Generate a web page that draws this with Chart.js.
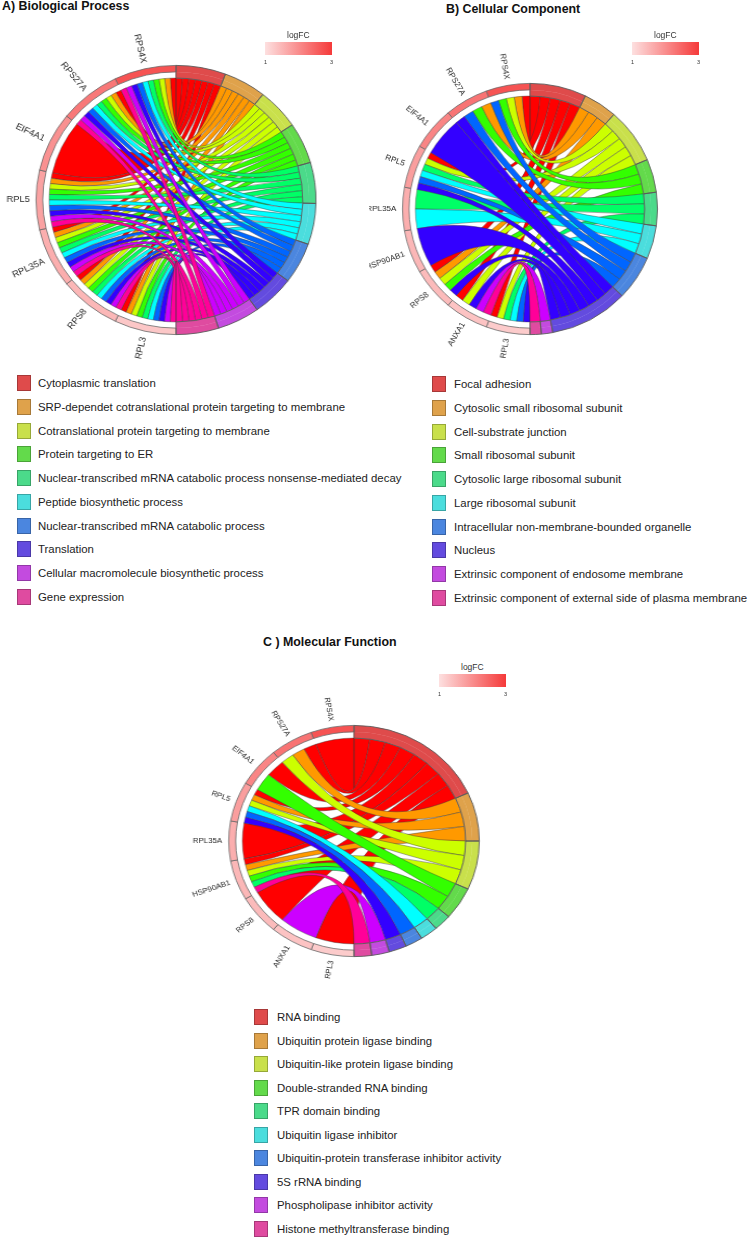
<!DOCTYPE html>
<html>
<head>
<meta charset="utf-8">
<script src="https://cdn.jsdelivr.net/npm/chart.js@4.4.1/dist/chart.umd.min.js"></script>
<style>
  body { margin: 0; background: #fff; font-family: "Liberation Sans", Arial, sans-serif; }
  #page { position: relative; width: 748px; height: 1239px; overflow: hidden; }
  .title { position: absolute; font-weight: bold; font-size: 12.4px; line-height: 14px; color: #111; white-space: nowrap; }
  .clip { position: absolute; overflow: hidden; }
  canvas { position: absolute; }
  .sq { position: absolute; width: 14px; height: 16px; box-sizing: border-box; border: 1px solid rgba(0,0,0,0.25); }
  .lt { position: absolute; font-size: 11.4px; line-height: 14px; color: #222; white-space: nowrap; }
  .fc { position: absolute; font-size: 8.5px; line-height: 10px; color: #333; }
  .fcbar { position: absolute; width: 67px; height: 13px; background: linear-gradient(to right, rgb(253,224,224), rgb(245,58,58)); }
  .tick { position: absolute; font-size: 5.5px; line-height: 6px; color: #333; }
</style>
</head>
<body>
<div id="page">
  <div class="title" style="left:2px;top:-1px">A) Biological Process</div>
  <div class="title" style="left:446px;top:2px">B) Cellular Component</div>
  <div class="title" style="left:263px;top:635px">C ) Molecular Function</div>

  <div class="clip" style="left:0;top:0;width:370px;height:370px"><canvas id="chartA" width="360" height="360" style="left:-4.5px;top:20px;transform:scaleX(1.04)"></canvas></div>
  <div class="clip" style="left:369px;top:0;width:379px;height:370px"><canvas id="chartB" width="342" height="342" style="left:-10px;top:38px;transform:scaleX(1.015)"></canvas></div>
  <div class="clip" style="left:150px;top:650px;width:450px;height:330px"><canvas id="chartC" width="322" height="322" style="left:43px;top:30px;transform:scaleX(1.084)"></canvas></div>
</div>
<script>
// ribbon colours (rainbow) and term arc / legend colours
const ribbonColors = ['#FF0000', '#FF9900', '#CCFF00', '#33FF00', '#00FF66', '#00FFFF', '#0066FF', '#3300FF', '#CC00FF', '#FF0099'];
const termColors = ['#DF4B4B', '#DFA24B', '#C9E04B', '#63DA4B', '#4BDA8A', '#4BDDDD', '#4B86DF', '#634BDF', '#C34BDF', '#DF4BA0'];

// A) Biological Process
const bpTerms = ['Cytoplasmic translation', 'SRP-dependet cotranslational protein targeting to membrane',
  'Cotranslational protein targeting to membrane', 'Protein targeting to ER',
  'Nuclear-transcribed mRNA catabolic process nonsense-mediated decay', 'Peptide biosynthetic process',
  'Nuclear-transcribed mRNA catabolic process', 'Translation',
  'Cellular macromolecule biosynthetic process', 'Gene expression'];
const bpGenes = ['RPS4X', 'RPS27A', 'EIF4A1', 'RPL5', 'RPL35A', 'RPS8', 'RPL3'];
const bpLogFC = [2.7, 2.25, 1.95, 1.75, 1.6, 1.5, 1.3];
const bpGeneTerms = [
  [1, 2, 3, 4, 5, 6, 7, 8, 9, 10],
  [1, 2, 3, 4, 5, 6, 7, 8, 9, 10],
  [1],
  [1, 2, 3, 4, 5, 6, 7, 8, 9, 10],
  [1, 2, 3, 4, 5, 6, 7, 8, 9, 10],
  [1, 2, 3, 4, 5, 6, 7, 8, 9, 10],
  [1, 2, 3, 4, 5, 6, 7, 8, 9, 10]
];

// B) Cellular Component
const ccTerms = ['Focal adhesion', 'Cytosolic small ribosomal subunit', 'Cell-substrate junction',
  'Small ribosomal subunit', 'Cytosolic large ribosomal subunit', 'Large ribosomal subunit',
  'Intracellular non-membrane-bounded organelle', 'Nucleus',
  'Extrinsic component of endosome membrane', 'Extrinsic component of external side of plasma membrane'];
const ccGenes = ['RPS4X', 'RPS27A', 'EIF4A1', 'RPL5', 'RPL35A', 'HSP90AB1', 'RPS8', 'ANXA1', 'RPL3'];
const ccLogFC = [2.7, 2.3, 2.1, 1.8, 1.6, 1.5, 1.45, 1.35, 1.25];
const ccGeneTerms = [
  [1, 2, 3, 4, 7],
  [2, 4, 7, 8],
  [8],
  [1, 3, 5, 6, 7, 8],
  [5, 6],
  [8],
  [1, 2, 3, 4, 8],
  [1, 3, 8, 9, 10],
  [1, 3, 5, 6, 7, 8]
];

// C) Molecular Function
const mfTerms = ['RNA binding', 'Ubiquitin protein ligase binding', 'Ubiquitin-like protein ligase binding',
  'Double-stranded RNA binding', 'TPR domain binding', 'Ubiquitin ligase inhibitor',
  'Ubiquitin-protein transferase inhibitor activity', '5S rRNA binding',
  'Phospholipase inhibitor activity', 'Histone methyltransferase binding'];
const mfGenes = ['RPS4X', 'RPS27A', 'EIF4A1', 'RPL5', 'RPL35A', 'HSP90AB1', 'RPS8', 'ANXA1', 'RPL3'];
const mfLogFC = [2.7, 2.3, 2.1, 1.8, 1.6, 1.5, 1.45, 1.35, 1.25];
const mfGeneTerms = [
  [1],
  [1, 2, 3],
  [1, 4],
  [1, 2, 3, 6, 7, 8],
  [1],
  [1, 2, 3, 4, 5, 10],
  [1],
  [9],
  [1]
];

const fcTicks = ['1', '3'];

function fcColor(v) {
  const f = Math.min(Math.max((v - 1) / 2, 0), 1);
  const r = Math.round(253 - 8 * f), g = Math.round(224 - 166 * f), b = Math.round(224 - 166 * f);
  return `rgb(${r},${g},${b})`;
}

// draws the ribbons, term outlines and gene names from the doughnut arcs
function chordPlugin(geneNames, geneTerms, nTerms, labelSize) {
  return {
    id: 'chord',
    beforeDatasetsDraw(chart) {
      const ctx = chart.ctx;
      const inner = chart.getDatasetMeta(1).data;
      const nG = geneNames.length;
      const p0 = inner[0].getProps(['x', 'y', 'innerRadius'], true);
      const cx = p0.x, cy = p0.y, r = p0.innerRadius;

      // gene side: first term at the top end, going anticlockwise
      const geneEnds = [];
      geneTerms.forEach((list, gi) => {
        const a = inner[nTerms + nG - 1 - gi].getProps(['startAngle', 'endAngle'], true);
        const w = (a.endAngle - a.startAngle) / list.length;
        geneEnds[gi] = {};
        list.forEach((t, k) => { geneEnds[gi][t] = [a.endAngle - (k + 1) * w, a.endAngle - k * w]; });
      });

      ctx.save();
      ctx.lineWidth = 0.5;
      ctx.strokeStyle = 'rgba(60,60,60,0.85)';
      for (let t = 1; t <= nTerms; t++) {
        const members = [];
        geneTerms.forEach((list, gi) => { if (list.includes(t)) members.push(gi); });
        const a = inner[t - 1].getProps(['startAngle', 'endAngle'], true);
        const w = (a.endAngle - a.startAngle) / members.length;
        members.forEach((gi, j) => {
          const t0 = a.startAngle + j * w, t1 = a.startAngle + (j + 1) * w;
          const [g0, g1] = geneEnds[gi][t];
          ctx.beginPath();
          ctx.arc(cx, cy, r, g0, g1, false);
          ctx.quadraticCurveTo(cx, cy, cx + r * Math.cos(t0), cy + r * Math.sin(t0));
          ctx.arc(cx, cy, r, t0, t1, false);
          ctx.quadraticCurveTo(cx, cy, cx + r * Math.cos(g0), cy + r * Math.sin(g0));
          ctx.closePath();
          ctx.fillStyle = ribbonColors[t - 1];
          ctx.fill();
          ctx.stroke();
        });
      }
      ctx.restore();
    },
    afterDatasetsDraw(chart) {
      const ctx = chart.ctx;
      const outer = chart.getDatasetMeta(0).data;
      const inner = chart.getDatasetMeta(1).data;
      const nG = geneNames.length;
      ctx.save();
      ctx.lineWidth = 0.9;
      ctx.strokeStyle = '#5a5a5a';
      for (let t = 0; t < nTerms; t++) {
        const o = outer[t].getProps(['x', 'y', 'startAngle', 'endAngle', 'outerRadius'], true);
        const i = inner[t].getProps(['innerRadius'], true);
        ctx.beginPath();
        ctx.arc(o.x, o.y, o.outerRadius, o.startAngle, o.endAngle, false);
        ctx.arc(o.x, o.y, i.innerRadius, o.endAngle, o.startAngle, true);
        ctx.closePath();
        ctx.stroke();
      }
      ctx.fillStyle = '#2a2a2a';
      ctx.font = labelSize + 'px "Liberation Sans", Arial, sans-serif';
      ctx.textAlign = 'right';
      ctx.textBaseline = 'middle';
      geneNames.forEach((name, gi) => {
        const a = outer[nTerms + nG - 1 - gi].getProps(['x', 'y', 'startAngle', 'endAngle', 'outerRadius'], true);
        const mid = (a.startAngle + a.endAngle) / 2;
        const rr = a.outerRadius + 6;
        ctx.save();
        ctx.translate(a.x + rr * Math.cos(mid), a.y + rr * Math.sin(mid));
        ctx.rotate(mid - Math.PI);
        ctx.fillText(name, 0, 0);
        ctx.restore();
      });
      ctx.restore();
    }
  };
}

function makeChord(canvasId, terms, genes, logFC, geneTerms, ry, labelSize) {
  const nT = terms.length;
  const termSizes = terms.map((name, i) => geneTerms.filter(list => list.includes(i + 1)).length);
  const total = termSizes.reduce((a, b) => a + b, 0);
  const revGenes = genes.map((g, i) => i).reverse();
  const values = termSizes.concat(revGenes.map(() => total / genes.length));
  const labels = terms.concat(revGenes.map(i => genes[i]));
  const canvas = document.getElementById(canvasId);
  const pad = canvas.width / 2 - ry;

  new Chart(canvas, {
    type: 'doughnut',
    data: {
      labels: labels,
      datasets: [{
        data: values,
        weight: 6.5,
        backgroundColor: termColors.slice(0, nT).concat(revGenes.map(i => fcColor(logFC[i]))),
        borderColor: '#6a6a6a',
        borderWidth: terms.map(() => 0).concat(revGenes.map(() => 0.8))
      }, {
        data: values,
        weight: 6.2,
        backgroundColor: termColors.slice(0, nT).concat(revGenes.map(() => 'rgba(255,255,255,0)')),
        borderColor: termColors.slice(0, nT).concat(revGenes.map(() => 'rgba(255,255,255,0)')),
        borderWidth: terms.map(() => 0.6).concat(revGenes.map(() => 0))
      }]
    },
    options: {
      responsive: false,
      animation: false,
      cutout: ((ry - 12.7) / ry * 100) + '%',
      layout: { padding: pad },
      events: [],
      plugins: { legend: { display: false }, tooltip: { enabled: false } }
    },
    plugins: [chordPlugin(genes, geneTerms, nT, labelSize)]
  });
}

function addLegend(terms, sqLeft, textLeft, y0, step) {
  const page = document.getElementById('page');
  terms.forEach((name, i) => {
    const cy = y0 + i * step;
    const sq = document.createElement('div');
    sq.className = 'sq';
    sq.style.left = sqLeft + 'px';
    sq.style.top = (cy - 8) + 'px';
    sq.style.background = termColors[i];
    page.appendChild(sq);
    const tx = document.createElement('div');
    tx.className = 'lt';
    tx.style.left = textLeft + 'px';
    tx.style.top = (cy - 7) + 'px';
    tx.textContent = name;
    page.appendChild(tx);
  });
}

function addFcLegend(left, top) {
  const page = document.getElementById('page');
  const t = document.createElement('div');
  t.className = 'fc';
  t.textContent = 'logFC';
  t.style.left = (left + 22) + 'px';
  t.style.top = (top - 12) + 'px';
  page.appendChild(t);
  const bar = document.createElement('div');
  bar.className = 'fcbar';
  bar.style.left = left + 'px';
  bar.style.top = top + 'px';
  page.appendChild(bar);
  fcTicks.forEach((lab, i) => {
    const k = document.createElement('div');
    k.className = 'tick';
    k.textContent = lab;
    k.style.left = (left - 1 + i * 66) + 'px';
    k.style.top = (top + 17) + 'px';
    page.appendChild(k);
  });
}

makeChord('chartA', bpTerms, bpGenes, bpLogFC, bpGeneTerms, 135, 9);
makeChord('chartB', ccTerms, ccGenes, ccLogFC, ccGeneTerms, 126, 8);
makeChord('chartC', mfTerms, mfGenes, mfLogFC, mfGeneTerms, 116, 7.3);

addLegend(bpTerms, 17, 38, 383, 23.75);
addLegend(ccTerms, 432, 454, 384, 23.75);
addLegend(mfTerms, 254, 277, 1017, 23.55);

addFcLegend(265, 42);
addFcLegend(632, 42);
addFcLegend(439, 674);
</script>
</body>
</html>
